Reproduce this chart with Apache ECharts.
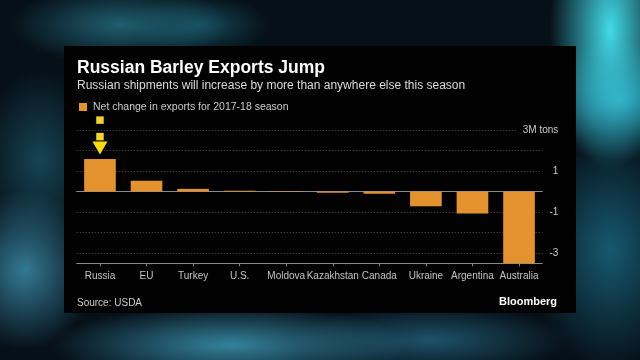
<!DOCTYPE html>
<html>
<head>
<meta charset="utf-8">
<script src="https://cdn.jsdelivr.net/npm/echarts@6/dist/echarts.min.js"></script>
<style>
  html, body { margin: 0; padding: 0; width: 640px; height: 360px; overflow: hidden; }
  body {
    background:
      radial-gradient(ellipse 60px 140px at 610px 30px, rgba(70,230,245,0.95), rgba(70,230,245,0) 100%),
      radial-gradient(ellipse 90px 60px at 620px 100px, rgba(40,170,200,0.8), rgba(40,170,200,0) 100%),
      radial-gradient(ellipse 80px 120px at 610px 250px, rgba(30,120,150,0.7), rgba(30,120,150,0) 100%),
      radial-gradient(ellipse 70px 80px at 25px 270px, rgba(60,140,170,0.85), rgba(60,140,170,0) 100%),
      radial-gradient(ellipse 60px 90px at 40px 160px, rgba(30,90,110,0.7), rgba(30,90,110,0) 100%),
      radial-gradient(ellipse 180px 40px at 230px 345px, rgba(60,150,180,0.85), rgba(60,150,180,0) 100%),
      radial-gradient(ellipse 140px 35px at 430px 340px, rgba(40,110,140,0.7), rgba(40,110,140,0) 100%),
      radial-gradient(ellipse 110px 40px at 120px 25px, rgba(40,120,140,0.75), rgba(40,120,140,0) 100%),
      radial-gradient(ellipse 70px 30px at 200px 25px, rgba(30,110,130,0.6), rgba(30,110,130,0) 100%),
      #061018;
  }
  #chart { width: 640px; height: 360px; }
</style>
</head>
<body>
<div id="chart"></div>
<script>
// ---- data ----
const categories = ['Russia', 'EU', 'Turkey', 'U.S.', 'Moldova', 'Kazakhstan', 'Canada', 'Ukraine', 'Argentina', 'Australia'];
const netChange = [1.58, 0.52, 0.13, 0.04, -0.02, -0.06, -0.11, -0.72, -1.07, -3.5];
const labeledTicks = [3, 1, -1, -3];
const topTickUnit = 'M tons';
const yMin = -3.5, yMax = 3;
const seriesName = 'Net change in exports for 2017-18 season';
const titleText = 'Russian Barley Exports Jump';
const subtitleText = 'Russian shipments will increase by more than anywhere else this season';
const sourceText = 'Source: USDA';
const brandText = 'Bloomberg';

const FONT = '"Liberation Sans", Arial, sans-serif';
const chart = echarts.init(document.getElementById('chart'));

chart.setOption({
  backgroundColor: 'transparent',
  animation: false,
  graphic: [{
    type: 'rect', z: -10, silent: true,
    shape: { x: 64, y: 46, width: 512, height: 267 },
    style: { fill: '#020202' }
  }],
  title: [
    { text: titleText, left: 72, top: 54,
      textStyle: { color: '#ffffff', fontFamily: FONT, fontWeight: 'bold', fontSize: 17.5 } },
    { text: subtitleText, left: 72, top: 74.5,
      textStyle: { color: '#dcdcdc', fontFamily: FONT, fontWeight: 'normal', fontSize: 12 } },
    { text: sourceText, left: 72, top: 293,
      textStyle: { color: '#cfcfcf', fontFamily: FONT, fontWeight: 'normal', fontSize: 10 } },
    { text: brandText, right: 78, top: 291.5,
      textStyle: { color: '#ffffff', fontFamily: FONT, fontWeight: 'bold', fontSize: 11 } }
  ],
  legend: {
    left: 74, top: 96.5, itemWidth: 8, itemHeight: 8, icon: 'rect', itemGap: 6,
    data: [seriesName],
    textStyle: { color: '#cccccc', fontFamily: FONT, fontSize: 10.5, padding: [0, 0, 0, 1] }
  },
  grid: { left: 76.7, right: 97.7, top: 130, bottom: 96.7, containLabel: false },
  xAxis: [
    { type: 'category', data: categories, position: 'top',
      axisLine: { onZero: true, lineStyle: { color: '#8c8c8c', width: 1 } },
      axisTick: { show: false }, axisLabel: { show: false }, splitLine: { show: false } },
    { type: 'category', data: categories, position: 'bottom',
      axisLine: { onZero: false, lineStyle: { color: '#8c8c8c', width: 1 } },
      axisTick: { show: true, alignWithLabel: true, length: 3, lineStyle: { color: '#8c8c8c' } },
      axisLabel: { color: '#c4c4c4', fontFamily: FONT, fontSize: 10, margin: 8, interval: 0 },
      splitLine: { show: false } }
  ],
  yAxis: {
    type: 'value', position: 'right', min: yMin, max: yMax, interval: 0.5,
    axisLine: { show: false }, axisTick: { show: false },
    splitLine: { show: true, lineStyle: { color: ['rgba(0,0,0,0)', '#555555'], type: [1, 2], width: 1 } },
    axisLabel: {
      align: 'right', margin: 16, color: '#cccccc', fontFamily: FONT, fontSize: 10,
      formatter: function (v) {
        if (labeledTicks.indexOf(v) < 0) return '';
        if (v === yMax) return '{u|' + v + topTickUnit + '}';
        return String(v);
      },
      rich: { u: { color: '#cccccc', fontFamily: FONT, fontSize: 10, backgroundColor: '#020202', padding: [2, 0, 2, 7] } }
    }
  },
  series: [{
    name: seriesName, type: 'bar', xAxisIndex: 1, data: netChange, barWidth: '68%',
    itemStyle: { color: '#E3922E' },
    markPoint: {
      silent: true,
      label: { show: false },
      data: [
        { coord: [categories[0], netChange[0]], symbol: 'path://M0,0 L10,0 L5,9 Z', symbolSize: [15, 13], symbolOffset: [0, -11], itemStyle: { color: '#F6DE0A' } },
        { coord: [categories[0], netChange[0]], symbol: 'rect', symbolSize: 7.5, symbolOffset: [0, -22.5], itemStyle: { color: '#F0D428' } },
        { coord: [categories[0], netChange[0]], symbol: 'rect', symbolSize: 7.5, symbolOffset: [0, -39], itemStyle: { color: '#F0D428' } }
      ]
    }
  }]
});
</script>
</body>
</html>
